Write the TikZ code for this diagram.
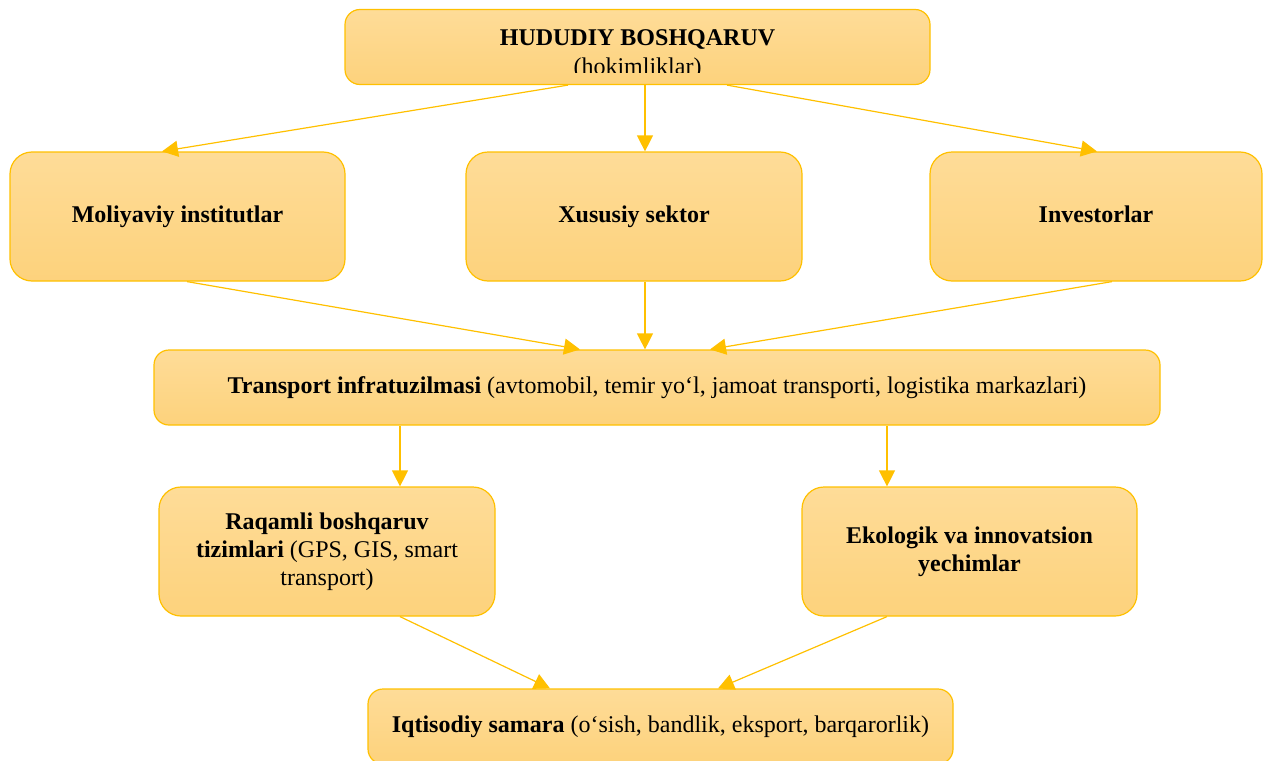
\documentclass[tikz,border=0pt]{standalone}
\usepackage{fontspec}
\setmainfont{Liberation Serif}
\usetikzlibrary{arrows.meta}

\definecolor{boxtop}{RGB}{254,220,152}
\definecolor{boxbot}{RGB}{253,210,124}
\definecolor{gold}{RGB}{255,192,0}

\begin{document}
\begin{tikzpicture}[x=0.5pt,y=-0.5pt,
  box/.style={draw=gold,line width=.6pt,top color=boxtop,bottom color=boxbot,
    rounded corners=11pt,minimum width=167.5pt,minimum height=64.5pt,
    inner sep=2pt,align=center,font=\fontsize{12}{14}\selectfont},
  wide/.style={box,rounded corners=7.5pt,minimum height=37.5pt},
  link/.style={draw=gold,line width=.6pt,-{Triangle[length=8pt,width=8pt]}}]

\useasboundingbox (0,0) rectangle (1263,760);

% boxes
\node[wide,minimum width=292.5pt] (hudud) at (637.5,47) {};
\begin{scope}
  \clip (345,10) rectangle (930,72.5);
  \node[anchor=base,font=\fontsize{12}{14}\selectfont] (hudtitle) at (637.5,45.7)
    {\textbf{HUDUDIY BOSHQARUV}};
  \node[anchor=base,font=\fontsize{12}{14}\selectfont] (hudsub) at (637.5,74.5)
    {(hokimliklar)};
\end{scope}

\node[box] (mol) at (177.5,216.5) {\textbf{Moliyaviy institutlar}};
\node[box,minimum width=168pt] (xus) at (634,216.5) {\textbf{Xususiy sektor}};
\node[box,minimum width=166pt] (inv) at (1096,216.5) {\textbf{Investorlar}\vphantom{y}};

\node[wide,minimum width=503pt] (trans) at (657,387.5)
  {\textbf{Transport infratuzilmasi} (avtomobil, temir yo‘l, jamoat transporti, logistika markazlari)};

\node[box,minimum width=168pt] (raq) at (327,551.5)
  {\textbf{Raqamli boshqaruv}\\\textbf{tizimlari} (GPS, GIS, smart\\transport)};
\node[box] (eko) at (969.5,551.5)
  {\textbf{Ekologik va innovatsion}\\\textbf{yechimlar}};

\node[wide,minimum width=292.5pt] (iqt) at (660.5,726.5)
  {\textbf{Iqtisodiy samara} (o‘sish, bandlik, eksport, barqarorlik)};

% arrows
\draw[link] ([xshift=-34.75pt]hudud.south) -- ([xshift=-7.75pt]mol.north);
\draw[link] ([xshift=3.75pt]hudud.south) -- ([xshift=5.5pt]xus.north);
\draw[link] ([xshift=44.75pt]hudud.south) -- ([xshift=.5pt]inv.north);

\draw[link] ([xshift=4.75pt]mol.south) -- ([xshift=-38.5pt]trans.north);
\draw[link] ([xshift=5.5pt]xus.south) -- ([xshift=-6pt]trans.north);
\draw[link] ([xshift=8pt]inv.south) -- ([xshift=26.5pt]trans.north);

\draw[link] ([xshift=-128.5pt]trans.south) -- ([xshift=36.5pt]raq.north);
\draw[link] ([xshift=115pt]trans.south) -- ([xshift=-41.25pt]eko.north);

\draw[link] ([xshift=36.5pt]raq.south) -- ([xshift=-55.25pt]iqt.north);
\draw[link] ([xshift=-41.25pt]eko.south) -- ([xshift=28.75pt]iqt.north);
%\draw[red] (0,0) rectangle (1263,760);
\end{tikzpicture}
\end{document}
